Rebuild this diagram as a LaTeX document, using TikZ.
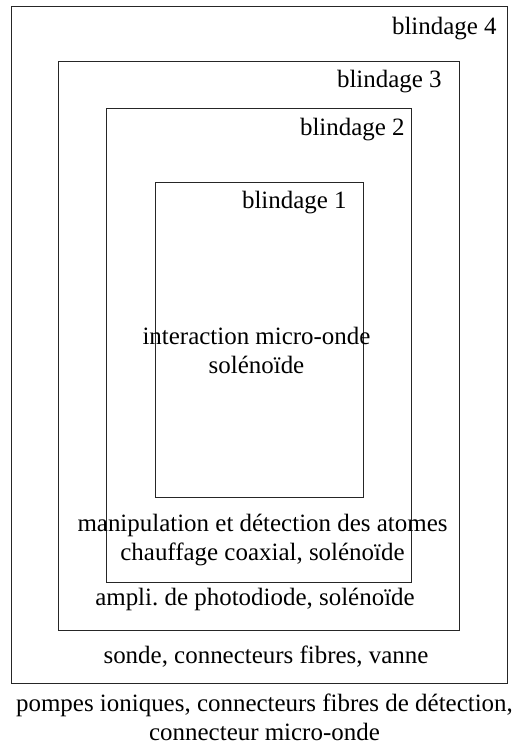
\documentclass[tikz,border=0pt]{standalone}
\usepackage{fontspec}
\setmainfont{Liberation Serif}
\usetikzlibrary{calc, positioning}
\frenchspacing

\begin{document}
\begin{tikzpicture}[x=0.02cm, y=-0.02cm,
  shield/.style={draw=black!85, line width=0.45pt, rectangle, inner sep=0pt},
  slabel/.style={font=\fontsize{14.2pt}{16.2pt}\selectfont, anchor=base east, inner sep=0pt},
  zone/.style={font=\fontsize{14.2pt}{16.2pt}\selectfont, align=center, anchor=base, inner sep=0pt},
]
\useasboundingbox (0,0) rectangle (514,755);

% blindages, du plus grand au plus petit
\node[shield, minimum width=9.92cm, minimum height=13.54cm] (b4) at (259,344.5) {};
\node[shield, minimum width=8.02cm, minimum height=11.38cm] (b3) at (258.5,345.5) {};
\node[shield, minimum width=6.10cm, minimum height=9.48cm] (b2) at (258.5,345) {};
\node[shield, minimum width=4.16cm, minimum height=6.30cm] (b1) at (259,339.5) {};

\node[slabel] (l4) at (497,34) {blindage 4};
\node[slabel] (l3) at (442,87) {blindage 3};
\node[slabel] (l2) at (405,135) {blindage 2};
\node[slabel] (l1) at (347,208) {blindage 1};

% contenu de chaque zone (base = derniere ligne)
\node[zone] (z1) at (256.5,373) {interaction micro-onde\\solénoïde};
\node[zone] (z2) at (262.5,560) {manipulation et détection des atomes\\chauffage coaxial, solénoïde};
\node[zone] (z3) at (255,605) {ampli. de photodiode, solénoïde};
\node[zone] (z4) at (266,663) {sonde, connecteurs fibres, vanne};
\node[zone] (z5) at (264.5,740) {pompes ioniques, connecteurs fibres de détection,\\connecteur micro-onde};
\end{tikzpicture}
\end{document}
